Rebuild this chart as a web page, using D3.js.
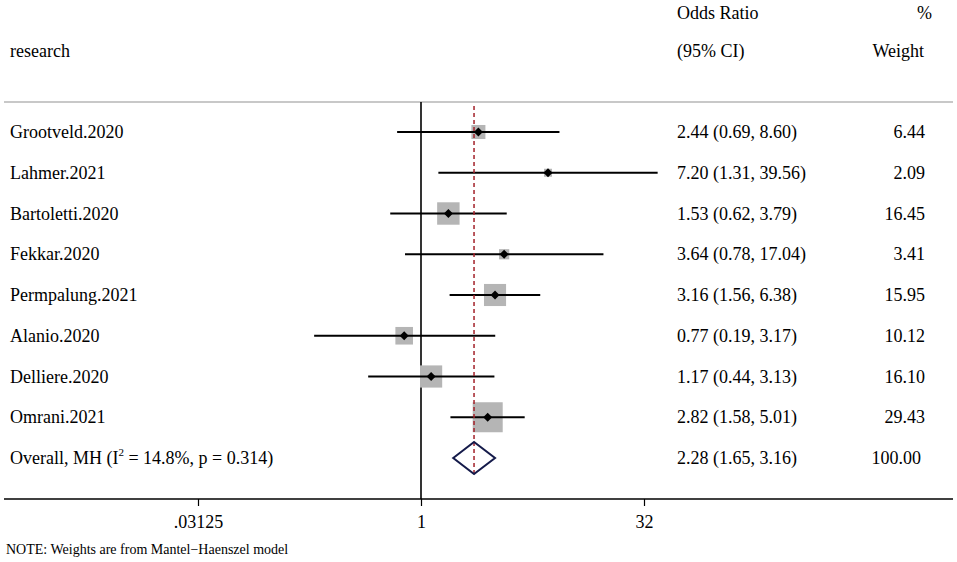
<!DOCTYPE html>
<html lang="en">
<head>
<meta charset="UTF-8">
<title>forest plot</title>
<script src="https://d3js.org/d3.v7.min.js"></script>
<style>
  body { margin: 0; background: #fff; }
  svg text { font-family: "Liberation Serif", "Times New Roman", serif; fill: #000; }
</style>
</head>
<body>
<script>
// study data
var studies = ["Grootveld.2020", "Lahmer.2021", "Bartoletti.2020", "Fekkar.2020",
               "Permpalung.2021", "Alanio.2020", "Delliere.2020", "Omrani.2021"];
var oddsRatio = [2.44, 7.20, 1.53, 3.64, 3.16, 0.77, 1.17, 2.82];
var ciLow = [0.69, 1.31, 0.62, 0.78, 1.56, 0.19, 0.44, 1.58];
var ciHigh = [8.60, 39.56, 3.79, 17.04, 6.38, 3.17, 3.13, 5.01];
var weights = [6.44, 2.09, 16.45, 3.41, 15.95, 10.12, 16.10, 29.43];

var overallOR = [2.28, 1.65, 3.16]; // estimate, low, high
var overallWeight = 100.00;

var tickValues = [0.03125, 1, 32];
var tickLabels = [".03125", "1", "32"];

var width = 957, height = 562;
var fs = 18;

var svg = d3.select("body").append("svg")
    .attr("width", width)
    .attr("height", height);

// log2 scale, 1 at x=421
var x = d3.scaleLog().base(2)
    .domain([0.03125, 32])
    .range([198, 644]);

var rows = d3.range(studies.length + 1);
var y = d3.scalePoint()
    .domain(rows)
    .range([132, 458]);

var fmt = d3.format(".2f");

// headers
svg.append("text").attr("x", 10).attr("y", 57).attr("font-size", fs).text("research");
svg.append("text").attr("x", 677).attr("y", 19).attr("font-size", fs).text("Odds Ratio");
svg.append("text").attr("x", 677).attr("y", 57).attr("font-size", fs).text("(95% CI)");
svg.append("text").attr("x", 932).attr("y", 19).attr("font-size", fs).attr("text-anchor", "end").text("%");
svg.append("text").attr("x", 924).attr("y", 57).attr("font-size", fs).attr("text-anchor", "end").text("Weight");

// separator under header
svg.append("line")
    .attr("x1", 4).attr("x2", 953)
    .attr("y1", 102).attr("y2", 102)
    .attr("stroke", "#c8c8c8").attr("stroke-width", 2);

// no-effect line
svg.append("line")
    .attr("x1", x(1)).attr("x2", x(1))
    .attr("y1", 102).attr("y2", 499)
    .attr("stroke", "#000").attr("stroke-width", 1.6);

// weight squares
var sq = function(w) { return 5.53 * Math.sqrt(w); };
svg.selectAll("rect.w")
    .data(studies)
    .enter()
    .append("rect")
    .attr("class", "w")
    .attr("fill", "#b5b5b5")
    .attr("x", function(d, i) { return x(oddsRatio[i]) - sq(weights[i]) / 2; })
    .attr("y", function(d, i) { return y(i) - sq(weights[i]) / 2; })
    .attr("width", function(d, i) { return sq(weights[i]); })
    .attr("height", function(d, i) { return sq(weights[i]); });

// CI lines
svg.selectAll("line.ci")
    .data(studies)
    .enter()
    .append("line")
    .attr("class", "ci")
    .attr("x1", function(d, i) { return x(ciLow[i]); })
    .attr("x2", function(d, i) { return x(ciHigh[i]); })
    .attr("y1", function(d, i) { return y(i); })
    .attr("y2", function(d, i) { return y(i); })
    .attr("stroke", "#000").attr("stroke-width", 2);

// point markers
svg.selectAll("path.pt")
    .data(studies)
    .enter()
    .append("path")
    .attr("class", "pt")
    .attr("d", function(d, i) {
        var cx = x(oddsRatio[i]), cy = y(i), r = 4.5;
        return "M" + (cx - r) + "," + cy + "L" + cx + "," + (cy - r) + "L" + (cx + r) + "," + cy + "L" + cx + "," + (cy + r) + "Z";
    })
    .attr("fill", "#000");

// overall estimate dashed line
svg.append("line")
    .attr("x1", x(overallOR[0])).attr("x2", x(overallOR[0]))
    .attr("y1", 106).attr("y2", 477)
    .attr("stroke", "#a3222a").attr("stroke-width", 1.5)
    .attr("stroke-dasharray", "4,3");

// overall diamond
var oy = y(studies.length);
svg.append("path")
    .attr("d", "M" + x(overallOR[1]) + "," + oy +
               "L" + x(overallOR[0]) + "," + (oy - 16) +
               "L" + x(overallOR[2]) + "," + oy +
               "L" + x(overallOR[0]) + "," + (oy + 16) + "Z")
    .attr("fill", "none")
    .attr("stroke", "#141a4a")
    .attr("stroke-width", 2);

// study labels
svg.selectAll("text.name")
    .data(studies)
    .enter()
    .append("text")
    .attr("class", "name")
    .attr("x", 10)
    .attr("y", function(d, i) { return y(i) + 6; })
    .attr("font-size", fs)
    .text(function(d) { return d; });

var ol = svg.append("text")
    .attr("x", 10).attr("y", oy + 6).attr("font-size", fs);
ol.append("tspan").text("Overall, MH (I");
ol.append("tspan").attr("font-size", 11).attr("dy", -8).text("2");
ol.append("tspan").attr("dy", 8).text(" = 14.8%, p = 0.314)");

// OR (CI) column
svg.selectAll("text.ci")
    .data(studies)
    .enter()
    .append("text")
    .attr("class", "ci")
    .attr("x", 677)
    .attr("y", function(d, i) { return y(i) + 6; })
    .attr("font-size", fs)
    .text(function(d, i) { return fmt(oddsRatio[i]) + " (" + fmt(ciLow[i]) + ", " + fmt(ciHigh[i]) + ")"; });

svg.append("text")
    .attr("x", 677).attr("y", oy + 6).attr("font-size", fs)
    .text(fmt(overallOR[0]) + " (" + fmt(overallOR[1]) + ", " + fmt(overallOR[2]) + ")");

// weight column
svg.selectAll("text.wt")
    .data(studies)
    .enter()
    .append("text")
    .attr("class", "wt")
    .attr("x", 925)
    .attr("y", function(d, i) { return y(i) + 6; })
    .attr("font-size", fs)
    .attr("text-anchor", "end")
    .text(function(d, i) { return fmt(weights[i]); });

svg.append("text")
    .attr("x", 921).attr("y", oy + 6).attr("font-size", fs)
    .attr("text-anchor", "end")
    .text(fmt(overallWeight));

// x axis
svg.append("line")
    .attr("x1", 4).attr("x2", 953)
    .attr("y1", 499).attr("y2", 499)
    .attr("stroke", "#000").attr("stroke-width", 1.5);

var axis = d3.axisBottom(x)
    .tickValues(tickValues)
    .tickSize(7)
    .tickFormat(function(d, i) { return tickLabels[i]; });

var gx = svg.append("g")
    .attr("transform", "translate(0,499)")
    .call(axis);
gx.select(".domain").remove();
gx.selectAll(".tick line").attr("stroke", "#000").attr("stroke-width", 1.2);
gx.selectAll(".tick text")
    .attr("font-family", "Liberation Serif, serif")
    .attr("font-size", fs)
    .attr("fill", "#000")
    .attr("dy", 0)
    .attr("y", 29);

// note
svg.append("text")
    .attr("x", 6).attr("y", 554)
    .attr("font-size", 14)
    .text("NOTE: Weights are from Mantel\u2212Haenszel model");
</script>
</body>
</html>
